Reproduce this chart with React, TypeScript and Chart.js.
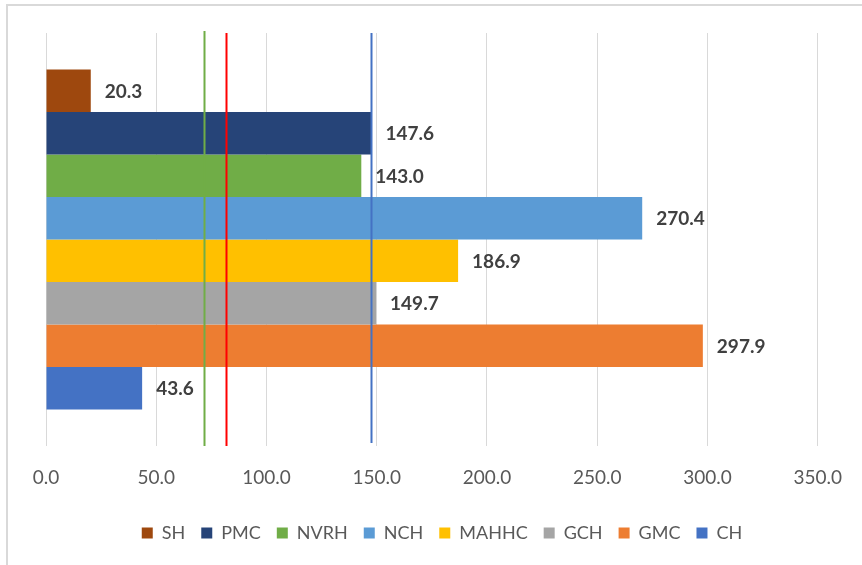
import React, { useEffect, useRef } from "react";
import { Chart, registerables } from "chart.js";

Chart.register(...registerables);

const categories = [""];
const seriesNames = ["SH", "PMC", "NVRH", "NCH", "MAHHC", "GCH", "GMC", "CH"];
const seriesValues = [20.3, 147.6, 143.0, 270.4, 186.9, 149.7, 297.9, 43.6];
const seriesColors = ["#9e480e", "#264478", "#70ad47", "#5b9bd5", "#ffc000", "#a5a5a5", "#ed7d31", "#4472c4"];
const refLineValues = [71.5, 81.5, 147.6];
const refLineColors = ["#70ad47", "#ff0000", "#4472c4"];
const xMin = 0;
const xMax = 350;
const xStep = 50;

const FONT = "Lato, 'Open Sans', sans-serif";

const refLinesPlugin = {
  id: "refLines",
  afterDatasetsDraw(chart: any) {
    const { ctx, chartArea, scales } = chart;
    ctx.save();
    refLineValues.forEach((v, i) => {
      const x = Math.round(scales.x.getPixelForValue(v)) + 0.5;
      ctx.strokeStyle = refLineColors[i];
      ctx.lineWidth = 2;
      ctx.beginPath();
      ctx.moveTo(x, chartArea.top - (i === 0 ? 2 : 0));
      ctx.lineTo(x, chartArea.bottom - (i === 2 ? 3 : 0));
      ctx.stroke();
    });
    ctx.restore();
  },
};

const valueLabelsPlugin = {
  id: "valueLabels",
  afterDraw(chart: any) {
    const { ctx } = chart;
    ctx.save();
    ctx.font = `bold 19px ${FONT}`;
    ctx.fillStyle = "#404040";
    ctx.textBaseline = "middle";
    ctx.textAlign = "left";
    chart.data.datasets.forEach((ds: any, di: number) => {
      const meta = chart.getDatasetMeta(di);
      meta.data.forEach((el: any, i: number) => {
        const v = ds.data[i];
        ctx.fillText(Number(v).toFixed(1), el.x + 14, el.y + 1);
      });
    });
    ctx.restore();
  },
};

const legendShiftPlugin = {
  id: "legendShift",
  afterLayout(chart: any) {
    const lg = chart.legend;
    if (lg) {
      lg.left += 8;
      lg.right += 8;
    }
  },
};

export default function App() {
  const canvasRef = useRef<HTMLCanvasElement | null>(null);

  useEffect(() => {
    if (!canvasRef.current) return;
    const chart = new Chart(canvasRef.current, {
      type: "bar",
      data: {
        labels: categories,
        datasets: seriesNames.map((name, i) => ({
          label: name,
          data: [seriesValues[i]],
          backgroundColor: seriesColors[i],
          borderWidth: 0,
          categoryPercentage: 0.823,
          barPercentage: 1,
        })),
      },
      options: {
        indexAxis: "y",
        animation: false,
        responsive: false,
        maintainAspectRatio: false,
        layout: { padding: { left: 46, right: 40, top: 33, bottom: 13 } },
        plugins: {
          tooltip: { enabled: false },
          legend: {
            display: true,
            position: "bottom",
            labels: {
              boxWidth: 11,
              boxHeight: 11,
              padding: 16,
              color: "#595959",
              font: { family: FONT, size: 18 },
            },
          },
        },
        scales: {
          x: {
            min: xMin,
            max: xMax,
            border: { display: false },
            grid: { color: "#d9d9d9", lineWidth: 1, drawTicks: false },
            ticks: {
              stepSize: xStep,
              padding: 20,
              color: "#595959",
              font: { family: FONT, size: 19 },
              callback: (v: any) => Number(v).toFixed(1),
            },
            afterFit: (scale: any) => {
              scale.height = 62;
            },
          },
          y: {
            display: false,
          },
        },
      },
      plugins: [refLinesPlugin, valueLabelsPlugin, legendShiftPlugin],
    });
    return () => chart.destroy();
  }, []);

  return (
    <div style={{ position: "fixed", left: 0, top: 0, width: 862, height: 565, background: "#fff" }}>
      <div
        style={{
          position: "absolute",
          left: 6,
          top: 4,
          width: 870,
          height: 580,
          borderLeft: "2px solid #d9d9d9",
          borderTop: "2px solid #d9d9d9",
        }}
      />
      <canvas ref={canvasRef} width={862} height={565} style={{ position: "absolute", left: 0, top: 0 }} />
    </div>
  );
}
